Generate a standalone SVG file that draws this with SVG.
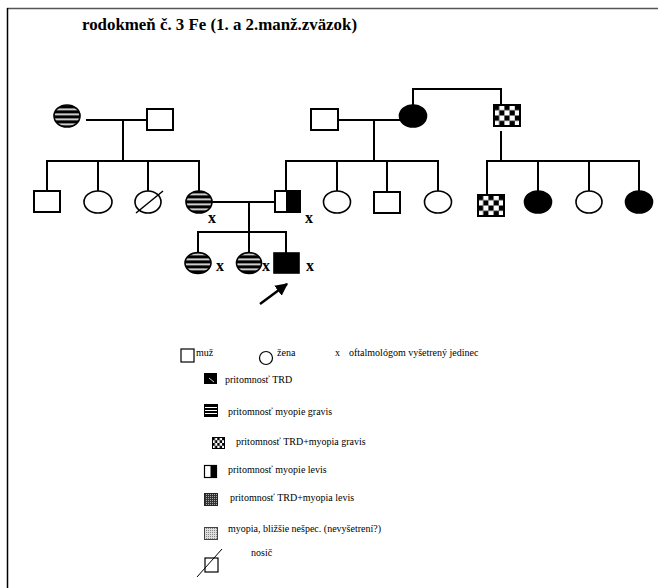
<svg xmlns="http://www.w3.org/2000/svg" width="659" height="588" viewBox="0 0 659 588">
<style>
.ln{stroke:#000;stroke-width:2;fill:none}
.sq{fill:#fff;stroke:#000;stroke-width:2}
.ci{fill:#fff;stroke:#000;stroke-width:1.6}
.bk{fill:#000;stroke:#000;stroke-width:1.6}
.st{fill:url(#stripes);stroke:#000;stroke-width:1.6}
.ck{fill:url(#checker);stroke:#000;stroke-width:2}
.xm{font-family:"Liberation Serif","Times New Roman","DejaVu Serif",serif;font-weight:bold;font-size:16px}
.lg{font-family:"Liberation Serif","Times New Roman","DejaVu Serif",serif;font-size:10px}
.ti{font-family:"Liberation Serif","Times New Roman","DejaVu Serif",serif;font-weight:bold;font-size:16px}
.li{stroke:#000;stroke-width:1.2;fill:#fff}
</style>
<defs>
<pattern id="stripes" patternUnits="userSpaceOnUse" x="0" y="0.5" width="10" height="5">
<rect width="10" height="5" fill="#000"/>
<rect x="0" y="3" width="10" height="1.6" fill="#fff"/>
</pattern>
<pattern id="checker" patternUnits="objectBoundingBox" patternContentUnits="objectBoundingBox" width="0.4" height="0.5">
<rect width="0.4" height="0.5" fill="#fff"/>
<rect x="0" y="0" width="0.2" height="0.25" fill="#000"/>
<rect x="0.2" y="0.25" width="0.2" height="0.25" fill="#000"/>
</pattern>
<pattern id="dense" patternUnits="userSpaceOnUse" width="2" height="2">
<rect width="2" height="2" fill="#333"/>
<rect width="1" height="1" fill="#aaa"/>
</pattern>
<pattern id="light" patternUnits="userSpaceOnUse" width="2" height="2">
<rect width="2" height="2" fill="#ddd"/>
<rect width="1" height="1" fill="#888"/>
</pattern>
<marker id="arr" viewBox="0 0 10 10" refX="9" refY="5" markerWidth="5" markerHeight="5" orient="auto">
<path d="M0,0 L10,5 L0,10 z" fill="#000"/>
</marker>
</defs>
<rect width="659" height="588" fill="#fff"/>
<line x1="7" y1="8.5" x2="658" y2="8.5" stroke="#555" stroke-width="1.5"/>
<line x1="7.5" y1="8" x2="7.5" y2="588" stroke="#000" stroke-width="1.5"/>
<text class="ti" x="82" y="30" textLength="275" lengthAdjust="spacingAndGlyphs">rodokmeň č. 3 Fe (1. a 2.manž.zväzok)</text>

<g id="connectors">
<polyline class="ln" points="86,120 147,120"/>
<polyline class="ln" points="123,120 123,161"/>
<polyline class="ln" points="47,191 47,161 199,161 199,191"/>
<line class="ln" x1="98" y1="161" x2="98" y2="191"/>
<line class="ln" x1="148" y1="161" x2="148" y2="191"/>
<polyline class="ln" points="338,120 400,120"/>
<polyline class="ln" points="374,120 374,161"/>
<polyline class="ln" points="286,191 286,161 438,161 438,192"/>
<line class="ln" x1="337" y1="161" x2="337" y2="192"/>
<line class="ln" x1="387" y1="161" x2="387" y2="192"/>
<polyline class="ln" points="413,105 413,89 501,89 501,105"/>
<line class="ln" x1="501" y1="131" x2="501" y2="161"/>
<polyline class="ln" points="487,194 487,161 639,161 639,192"/>
<line class="ln" x1="538" y1="161" x2="538" y2="192"/>
<line class="ln" x1="589" y1="161" x2="589" y2="192"/>
<line class="ln" x1="212" y1="202" x2="275" y2="202"/>
<line class="ln" x1="249" y1="202" x2="249" y2="232"/>
<polyline class="ln" points="198,253 198,232 286,232 286,253"/>
<line class="ln" x1="249" y1="232" x2="249" y2="253"/>
<line x1="260" y1="304" x2="287" y2="284" stroke="#000" stroke-width="2.5" marker-end="url(#arr)"/>
</g>

<g id="gen1-mother"><ellipse class="st" cx="67" cy="116" rx="13" ry="11"/></g>
<g id="gen1-father"><rect class="sq" x="147" y="109" width="26" height="21"/></g>
<g id="gen2-son1"><rect class="sq" x="34" y="191" width="26" height="21"/></g>
<g id="gen2-daughter1"><ellipse class="ci" cx="98" cy="202" rx="14" ry="11"/></g>
<g id="gen2-daughter2"><ellipse class="ci" cx="148" cy="202" rx="13" ry="11"/><line x1="136" y1="213" x2="163" y2="191" stroke="#000" stroke-width="1.5"/></g>
<g id="gen2-daughter3"><ellipse class="st" cx="199" cy="202" rx="13" ry="11"/><text class="xm" x="208" y="223">x</text></g>
<g id="gen2-father"><rect class="sq" x="275" y="191" width="25" height="21"/><rect x="287" y="191" width="13" height="21" style="fill:#000;stroke:#000;stroke-width:2"/><text class="xm" x="305" y="223">x</text></g>
<g id="gen1b-father"><rect class="sq" x="311" y="109" width="27" height="21"/></g>
<g id="gen1b-mother"><ellipse class="bk" cx="413" cy="116" rx="13.5" ry="11"/></g>
<g id="gen1b-brother"><rect class="ck" x="494" y="105" width="26" height="21"/></g>
<g id="gen2b-daughter1"><ellipse class="ci" cx="337" cy="202" rx="13.5" ry="11"/></g>
<g id="gen2b-son"><rect class="sq" x="374" y="192" width="26" height="21"/></g>
<g id="gen2b-daughter2"><ellipse class="ci" cx="438" cy="202" rx="13.5" ry="11"/></g>
<g id="cousin1"><rect class="ck" x="478" y="195" width="26" height="21"/></g>
<g id="cousin2"><ellipse class="bk" cx="538" cy="202" rx="13.5" ry="11"/></g>
<g id="cousin3"><ellipse class="ci" cx="589" cy="202" rx="13" ry="11"/></g>
<g id="cousin4"><ellipse class="bk" cx="639" cy="202" rx="13.5" ry="11"/></g>
<g id="gen3-daughter1"><ellipse class="st" cx="198" cy="263" rx="13" ry="10.5"/><text class="xm" x="216" y="271">x</text></g>
<g id="gen3-daughter2"><ellipse class="st" cx="249" cy="263" rx="12.5" ry="10.5"/><text class="xm" x="262" y="271">x</text></g>
<g id="gen3-proband"><rect class="bk" x="274" y="253" width="25" height="20"/><text class="xm" x="306" y="271">x</text></g>

<g id="legend">
<rect class="li" x="181" y="349" width="13" height="13"/>
<text class="lg" x="196" y="356">muž</text>
<circle class="li" cx="266" cy="358" r="6.5"/>
<text class="lg" x="277" y="356">žena</text>
<text class="lg" x="335" y="356">x</text>
<text class="lg" x="349" y="356">oftalmológom vyšetrený jedinec</text>
<rect x="204" y="373" width="13" height="11" fill="#000"/>
<line x1="209" y1="378" x2="214" y2="382" stroke="#fff" stroke-width="0.8"/>
<text class="lg" x="225" y="383">pritomnosť TRD</text>
<rect x="204.5" y="404.5" width="13" height="12" style="fill:#000;stroke:#000;stroke-width:1"/>
<line x1="205" y1="407.5" x2="217" y2="407.5" stroke="#fff" stroke-width="1"/>
<line x1="205" y1="410.5" x2="217" y2="410.5" stroke="#fff" stroke-width="1"/>
<line x1="205" y1="413.5" x2="217" y2="413.5" stroke="#fff" stroke-width="1"/>
<text class="lg" x="228" y="415">pritomnosť myopie gravis</text>
<rect x="212.5" y="437.5" width="12" height="11" fill="url(#checker)" stroke="#000" stroke-width="1"/>
<text class="lg" x="236" y="445">pritomnosť TRD+myopia gravis</text>
<rect x="204.5" y="465.5" width="12" height="12" fill="#fff" stroke="#000" stroke-width="1.2"/>
<rect x="210.5" y="465.5" width="6" height="12" fill="#000"/>
<text class="lg" x="228" y="473">pritomnosť myopie levis</text>
<rect x="204.5" y="493.5" width="13" height="12" fill="url(#dense)" stroke="#222" stroke-width="1"/>
<text class="lg" x="230" y="501">pritomnosť TRD+myopia levis</text>
<rect x="204.5" y="527.5" width="13" height="12" fill="url(#light)" stroke="#444" stroke-width="1"/>
<text class="lg" x="228" y="532">myopia, bližšie nešpec. (nevyšetrení?)</text>
<rect x="205" y="558" width="13" height="14" style="fill:none;stroke:#000;stroke-width:1.2"/>
<line x1="197" y1="577" x2="222" y2="549" stroke="#000" stroke-width="1"/>
<text class="lg" x="251" y="556">nosič</text>
</g>
</svg>
